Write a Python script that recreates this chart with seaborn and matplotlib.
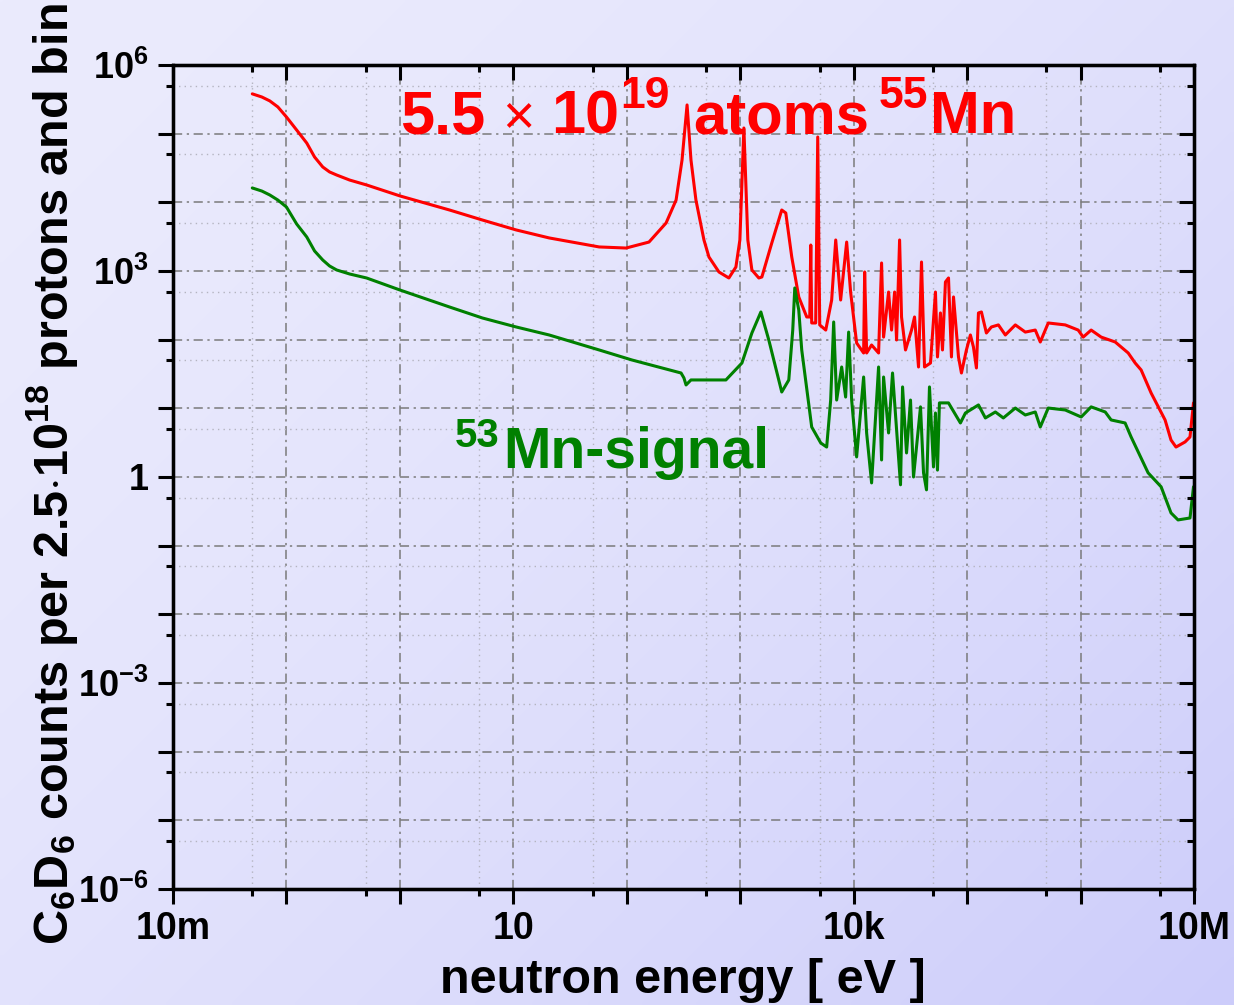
import numpy as np
import pandas as pd
import matplotlib
matplotlib.use("Agg")
import matplotlib.pyplot as plt
import seaborn as sns
from matplotlib.ticker import FixedLocator, FixedFormatter, NullFormatter

# ---------------- data ----------------
energy_mn55 = [0.05, 0.0607, 0.0713, 0.084, 0.1, 0.123, 0.151, 0.177, 0.209, 0.240, 0.277, 0.361,
               0.509, 1.0, 2.74, 5.33, 10.6, 20.7,
               57.1, 98.6, 157, 222, 272, 307, 340, 368, 407, 479, 530, 649, 794, 916, 993, 1077,
               1167, 1267, 1459, 1552, 1898, 2323, 2521, 2846, 3281, 3857, 4100, 4188,
               4266, 4627, 4822, 5021, 5675, 6397, 6947, 7677, 8676, 9397, 10620, 12240,
               12500, 13010, 14390, 16580, 17620, 18350, 20310, 21590, 22950, 23890,
               25400, 26420, 28640, 32370, 34400, 37300, 39630, 42120, 47550, 52600,
               54800, 58210, 60660, 64410, 68550, 72780, 75860, 83950, 89130, 98600,
               1.069e5, 1.137e5, 1.208e5, 1.259e5, 1.337e5, 1.479e5, 1.637e5, 1.887e5,
               2.173e5, 2.661e5, 3.258e5, 3.99e5, 4.416e5, 5.19e5, 7.33e5, 9.53e5,
               1.055e6, 1.24e6, 1.52e6, 2.02e6, 2.63e6, 3.03e6, 3.42e6, 4.19e6, 5.56e6,
               6.27e6, 6.94e6, 8.34e6, 9.22e6, 9.9e6]
counts_mn55 = [3.8e5, 3.42e5, 3.0e5, 2.45e5, 1.75e5, 1.13e5, 7.3e4, 4.57e4, 3.27e4, 2.77e4, 2.5e4, 2.11e4,
               1.79e4, 1.24e4, 7730, 5530, 3960, 3030,
               2240, 2160, 2640, 5000, 1.08e4, 4.14e4, 2.62e5, 4.14e4, 1.08e4, 2830, 1600, 968, 791, 1143, 2830, 1.21e5,
               2830, 1035, 791, 818, 2560, 7730, 7000, 1600, 419, 214, 214, 2390,
               175, 175, 8.95e4, 164, 138, 378, 2830, 378, 2640, 494, 89.5, 64.0,
               968, 64.0, 83.6, 64.0, 1309, 109, 494, 138, 494, 98.9,
               2830, 214, 70.8, 138, 214, 40.0, 1352, 40.0, 45.7, 494,
               56.0, 245, 70.8, 692, 791, 56.0, 419, 56.0, 32.7, 70.8,
               117, 78.2, 38.7, 245, 253, 125, 153, 164,
               117, 164, 129, 138, 92.5, 175, 164, 138,
               109, 138, 109, 92.5, 64.0, 45.7, 36.2, 16.7, 6.77,
               3.46, 2.73, 3.24, 3.83, 12.0]

energy_mn53 = [0.05, 0.0607, 0.0713, 0.084, 0.1, 0.123, 0.151, 0.177, 0.209, 0.240, 0.277, 0.361,
               0.509, 1.0, 2.74, 5.33, 10.6, 20.7,
               57.1, 111, 301, 319, 333, 368, 748, 1035, 1267, 1521, 1786, 2323, 2680,
               2904, 3026, 3281, 3485, 4266, 5128, 5781, 6270, 6665, 7080, 7839, 8495,
               9030, 9600, 10620, 12240, 13010, 14390, 16580, 17620, 18350, 20310, 22010,
               25880, 26980, 29240, 31700, 33700, 38830, 41290, 43850, 46590, 50540,
               52600, 54800, 57020, 68550, 87300, 96600, 1.259e5, 1.449e5, 1.775e5,
               2.086e5, 2.661e5, 3.258e5, 3.99e5, 4.416e5, 5.19e5, 7.33e5, 1.013e6,
               1.24e6, 1.65e6, 1.86e6, 2.47e6, 2.79e6, 3.94e6, 5.13e6, 6.27e6, 7.23e6,
               9.22e6, 9.9e6]
counts_mn53 = [1.62e4, 1.46e4, 1.28e4, 1.08e4, 8550, 4840, 3130, 1956, 1445, 1183, 1035, 904,
               791, 529, 299, 207, 153, 117,
               70.8, 50.6, 32.7, 27.7, 21.9, 25.9, 25.9, 45.7, 125, 253, 98.9, 17.3, 25.9,
               138, 566, 270, 70.8, 5.35, 3.13, 2.73, 13.2, 181, 13.2, 40.0, 14.6,
               129, 13.2, 1.96, 28.6, 4.38, 0.82, 40.0, 1.77, 28.6, 4.38, 32.7,
               0.77, 20.5, 2.24, 13.2, 1.0, 10.5, 1.15, 0.65, 20.5, 1.40,
               8.55, 1.26, 12.0, 12.0, 6.12, 8.55, 11.2, 7.24, 8.85,
               7.24, 10.1, 8.0, 8.85, 5.35, 10.1, 9.46, 7.48,
               10.5, 8.85, 6.77, 6.12, 3.83, 1.15, 0.72, 0.30, 0.237,
               0.253, 0.72]

x_major_ticks = [1e-2, 1e-1, 1e0, 1e1, 1e2, 1e3, 1e4, 1e5, 1e6, 1e7]
x_minor_ticks = [5e-2, 5e-1, 5e0, 5e1, 5e2, 5e3, 5e4, 5e5, 5e6]
x_tick_labels = ["10m", "", "", "10", "", "", "10k", "", "", "10M"]
y_major_ticks = [1e-6, 1e-5, 1e-4, 1e-3, 1e-2, 1e-1, 1e0, 1e1, 1e2, 1e3, 1e4, 1e5, 1e6]
y_minor_ticks = [5e-6, 5e-5, 5e-4, 5e-3, 5e-2, 5e-1, 5e0, 5e1, 5e2, 5e3, 5e4, 5e5]
y_tick_labels = [r"$10^{-6}$", "", "", r"$10^{-3}$", "", "", "1", "", "", r"$10^{3}$", "", "", r"$10^{6}$"]

x_title = "neutron energy [ eV ]"
y_title = r"C$_{6}$D$_{6}$ counts per 2.5$\cdot$10$^{18}$ protons and bin"

# ---------------- style ----------------
sns.set_theme(style="ticks")
plt.rcParams['font.family'] = ['Liberation Sans', 'DejaVu Sans']
plt.rcParams['font.weight'] = 'bold'
plt.rcParams['mathtext.fontset'] = 'custom'
plt.rcParams['mathtext.rm'] = 'Liberation Sans:bold'
plt.rcParams['mathtext.bf'] = 'Liberation Sans:bold'
plt.rcParams['mathtext.it'] = 'Liberation Sans:bold:italic'
plt.rcParams['mathtext.default'] = 'bf'
for k in ('text.color', 'axes.labelcolor', 'xtick.color', 'ytick.color', 'axes.edgecolor'):
    plt.rcParams[k] = 'black'

W, H = 1234, 1005
fig = plt.figure(figsize=(W / 100, H / 100), dpi=100)

# background gradient
bg = fig.add_axes([0, 0, 1, 1], zorder=-10)
yy, xx = np.mgrid[0:1:200j, 0:1:240j]
t = np.clip((0.55 * xx + 0.45 * yy), 0, 1) ** 1.6
c0 = np.array([235, 235, 253]) / 255.0
c1 = np.array([204, 204, 250]) / 255.0
grad = c0[None, None, :] + (c1 - c0)[None, None, :] * t[..., None]
bg.imshow(grad, aspect='auto', extent=[0, 1, 0, 1], origin='upper', interpolation='bilinear')
bg.set_axis_off()

L, R, T, B = 173, 1194, 65, 889
ax = fig.add_axes([L / W, 1 - B / H, (R - L) / W, (B - T) / H])
ax.set_facecolor('none')
ax.set_xscale('log')
ax.set_yscale('log')

df55 = pd.DataFrame({"energy": energy_mn55, "counts": counts_mn55})
df53 = pd.DataFrame({"energy": energy_mn53, "counts": counts_mn53})
sns.lineplot(data=df55, x="energy", y="counts", ax=ax, color="#ff0000", lw=2.2,
             estimator=None, sort=False, zorder=3)
sns.lineplot(data=df53, x="energy", y="counts", ax=ax, color="#008000", lw=2.2,
             estimator=None, sort=False, zorder=3)

ax.set_xlim(1e-2, 1e7)
ax.set_ylim(1e-6, 1e6)

ax.xaxis.set_major_locator(FixedLocator(x_major_ticks))
ax.xaxis.set_minor_locator(FixedLocator(x_minor_ticks))
ax.xaxis.set_major_formatter(FixedFormatter(x_tick_labels))
ax.xaxis.set_minor_formatter(NullFormatter())
ax.yaxis.set_major_locator(FixedLocator(y_major_ticks))
ax.yaxis.set_minor_locator(FixedLocator(y_minor_ticks))
ax.yaxis.set_major_formatter(FixedFormatter(y_tick_labels))
ax.yaxis.set_minor_formatter(NullFormatter())

ax.grid(True, which='major', color='#7a7a7a', lw=1.1, ls=(0, (6, 3, 1.5, 3)))
ax.grid(True, which='minor', color='#b4b4c0', lw=1.0, ls=(0, (1, 3)))
ax.set_axisbelow(True)

for s in ax.spines.values():
    s.set_linewidth(2.3)
    s.set_color('black')
    s.set_visible(True)

ax.tick_params(axis='both', which='major', direction='out', length=10.5, width=2.2,
               color='black', labelcolor='black')
ax.tick_params(axis='both', which='minor', direction='out', length=5, width=2.2,
               color='black')
ax.tick_params(axis='x', which='major', labelsize=27, pad=5)
ax.tick_params(axis='y', which='major', labelsize=26, pad=7)
ax.set_xlabel("")
ax.set_ylabel("")

# top and right ticks pointing inward
axt = ax.twiny()
axt.set_xscale('log')
axt.set_xlim(ax.get_xlim())
axt.xaxis.set_major_locator(FixedLocator(x_major_ticks))
axt.xaxis.set_minor_locator(FixedLocator(x_minor_ticks))
axt.xaxis.set_major_formatter(NullFormatter())
axt.xaxis.set_minor_formatter(NullFormatter())
axt.tick_params(axis='x', which='major', direction='in', length=10.5, width=2.2, color='black')
axt.tick_params(axis='x', which='minor', direction='in', length=5, width=2.2, color='black')
axr = ax.twinx()
axr.set_yscale('log')
axr.set_ylim(ax.get_ylim())
axr.yaxis.set_major_locator(FixedLocator(y_major_ticks))
axr.yaxis.set_minor_locator(FixedLocator(y_minor_ticks))
axr.yaxis.set_major_formatter(NullFormatter())
axr.yaxis.set_minor_formatter(NullFormatter())
axr.tick_params(axis='y', which='major', direction='in', length=10.5, width=2.2, color='black')
axr.tick_params(axis='y', which='minor', direction='in', length=5, width=2.2, color='black')
for a in (axt, axr):
    a.set_facecolor('none')
    for s in a.spines.values():
        s.set_linewidth(2.3)
        s.set_color('black')


def put(txt, px, py, size, color, weight='bold'):
    fig.text(px / W, 1 - py / H, txt, fontsize=size, color=color, fontweight=weight,
             ha='left', va='baseline')


# annotations (pieces so the superscripts match the reference)
RED, GREEN = "#ff0000", "#008000"
put("5.5", 400, 133, 44, RED)
put("\u00d7", 502, 133, 40, RED, weight='normal')
put("10", 551, 133, 44, RED)
put("19", 620, 108, 32, RED)
put("atoms", 693, 133, 43, RED)
put("55", 879, 108, 32, RED)
put("Mn", 930, 133, 43, RED)

put("53", 455, 447, 29, GREEN)
put("Mn-signal", 503, 468, 41, GREEN)

# axis titles
fig.text(683 / W, 1 - 993 / H, x_title, fontsize=35, fontweight='bold',
         ha='center', va='baseline', color='black')
fig.text(52 / W, 1 - 474 / H, y_title, fontsize=35, fontweight='bold',
         ha='center', va='center', rotation=90, color='black')

fig.savefig("out.png", dpi=100)
